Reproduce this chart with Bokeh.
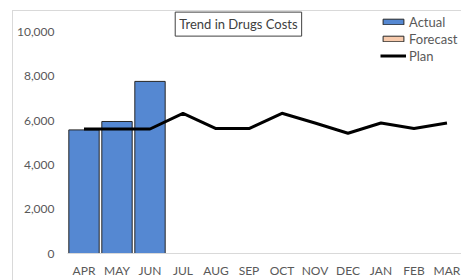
import math
from bokeh.plotting import figure
from bokeh.models import (FixedTicker, NumeralTickFormatter, Range1d, Legend, LegendItem,
                          Label, ColumnDataSource)
from bokeh.embed import file_html
from bokeh.resources import INLINE

months = ["APR", "MAY", "JUN", "JUL", "AUG", "SEP", "OCT", "NOV", "DEC", "JAN", "FEB", "MAR"]
actual = [5580, 5960, 7770]
forecast = [None, None, None, None, None, None, None, None, None]   # blank forecast JUL-MAR
plan = [5620, 5620, 5620, 6330, 5640, 5640, 6330, 5890, 5430, 5890, 5640, 5890]
y_ticks = [0, 2000, 4000, 6000, 8000, 10000]
title_text = "Trend in Drugs Costs"

FONT = "Lato"
GREY = "#595959"

xpos = list(range(len(months)))

p = figure(width=461, height=280, output_backend="svg", toolbar_location=None,
           x_range=Range1d(-0.5, 11.44), y_range=Range1d(0, 11422),
           min_border_left=67, min_border_right=0, min_border_top=0, min_border_bottom=23)
p.outline_line_color = None
p.xgrid.grid_line_color = None
p.ygrid.grid_line_color = None
p.background_fill_alpha = 0
p.border_fill_alpha = 0
p.styles = {"background": "linear-gradient(#d9d9d9,#d9d9d9) 12px 10px / 1px 100% no-repeat, "
                          "linear-gradient(#d9d9d9,#d9d9d9) 12px 10px / 100% 1px no-repeat, #ffffff"}

fc_x = xpos[len(actual):]
fc_top = [float("nan") if v is None else v for v in forecast]
src_a = ColumnDataSource(dict(x=xpos[:len(actual)], top=actual))
src_f = ColumnDataSource(dict(x=fc_x, top=fc_top))
src_p = ColumnDataSource(dict(x=xpos, y=plan))

r_a = p.vbar(x="x", top="top", width=0.92, bottom=0, source=src_a,
             fill_color="#5588D2", line_color="#262626", line_width=1)
r_f = p.vbar(x="x", top="top", width=0.92, bottom=0, source=src_f,
             fill_color="#F8CBAD", line_color="#262626", line_width=1)
r_p = p.line(x="x", y="y", source=src_p, line_color="black", line_width=3)

# axes
xa = p.xaxis[0]
xa.ticker = FixedTicker(ticks=xpos)
xa.major_label_overrides = {i: m for i, m in enumerate(months)}
xa.axis_line_color = "#d9d9d9"
xa.major_tick_line_color = None
xa.minor_tick_line_color = None
xa.major_tick_in = 0
xa.major_tick_out = 0
xa.major_label_text_font = FONT
xa.major_label_text_font_size = "12px"
xa.major_label_text_color = GREY
xa.major_label_standoff = 9

ya = p.yaxis[0]
ya.ticker = FixedTicker(ticks=y_ticks)
ya.formatter = NumeralTickFormatter(format="0,0")
ya.axis_line_color = None
ya.major_tick_line_color = None
ya.minor_tick_line_color = None
ya.major_tick_in = 0
ya.major_tick_out = 0
ya.major_label_text_font = FONT
ya.major_label_text_font_size = "12px"
ya.major_label_text_color = GREY
ya.major_label_standoff = 13

# title box
lbl = Label(x=4.68, y=10356, text=title_text, text_align="center", text_baseline="middle",
            text_font=FONT, text_font_size="13px", text_color="#404040",
            border_line_color="#404040", border_line_width=1,
            background_fill_color="white", padding=4)
p.add_layout(lbl)

# legend
legend = Legend(items=[LegendItem(label="Actual", renderers=[r_a]),
                       LegendItem(label="Forecast", renderers=[r_f]),
                       LegendItem(label="Plan", renderers=[r_p])],
                location=(313, 189), orientation="vertical",
                glyph_width=26, glyph_height=7, label_height=17, spacing=0,
                padding=0, margin=0, label_standoff=3,
                label_text_font=FONT, label_text_font_size="13px", label_text_color=GREY,
                background_fill_alpha=0, border_line_color=None)
p.add_layout(legend, "center")

open("out.html", "w").write(file_html(p, INLINE))
